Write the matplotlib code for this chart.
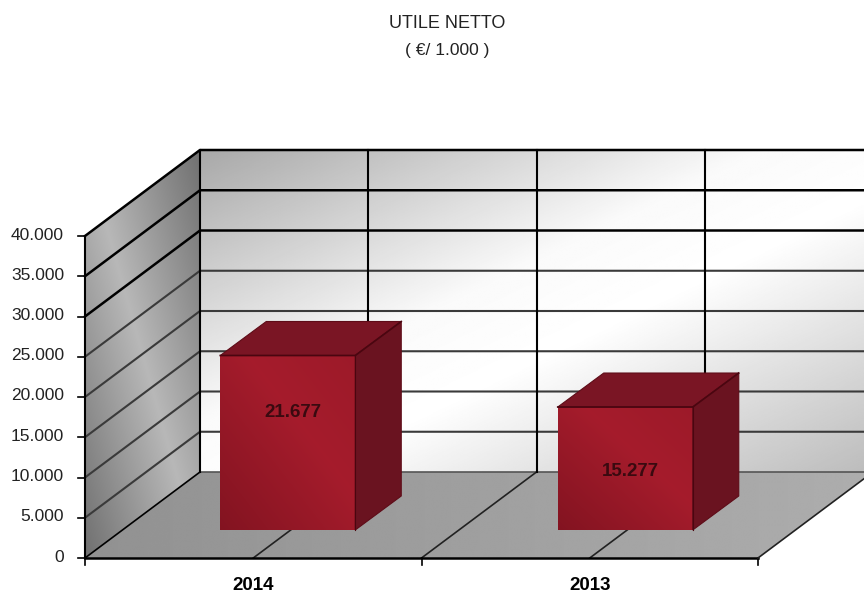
import matplotlib
matplotlib.use('Agg')
import matplotlib.pyplot as plt
from matplotlib.patches import Polygon
import numpy as np

categories = ['2014', '2013']
values = [21677, 15277]
value_labels = ['21.677', '15.277']
y_ticks = [0, 5000, 10000, 15000, 20000, 25000, 30000, 35000, 40000]
y_tick_labels = ['0', '5.000', '10.000', '15.000', '20.000', '25.000', '30.000', '35.000', '40.000']

# geometria della scena in pixel
X0, Y0 = 85, 558
X1 = 758
DX, DY = 115, 86
SCALA = 322 / 40000
CAT_W = (X1 - X0) / len(categories)
BAR_W = 135
BAR_DX = -33
BAR_UP = 28
BAR_D = (46, 34)

plt.rcParams['font.family'] = ['Liberation Sans Narrow', 'Liberation Sans', 'DejaVu Sans']

fig = plt.figure(figsize=(8.64, 5.94), dpi=100)
ax = fig.add_axes([0, 0, 1, 1])
ax.set_xlim(0, 864)
ax.set_ylim(594, 0)
ax.axis('off')


def ypx(v):
    return Y0 - v * SCALA


def sfumato(punti, func, cmap, vmin=0, vmax=1, z=1):
    # riempie un poligono con un gradiente calcolato pixel per pixel
    punti = np.array(punti)
    x0, x1 = punti[:, 0].min(), punti[:, 0].max()
    y0, y1 = punti[:, 1].min(), punti[:, 1].max()
    xx, yy = np.meshgrid(np.linspace(x0, x1, 300), np.linspace(y0, y1, 300))
    im = ax.imshow(func(xx, yy), extent=[x0, x1, y1, y0], cmap=cmap, vmin=vmin, vmax=vmax,
                   aspect='auto', zorder=z, interpolation='bilinear')
    pg = Polygon(punti, closed=True, transform=ax.transData, fc='none', ec='none')
    ax.add_patch(pg)
    im.set_clip_path(pg)
    ax.set_xlim(0, 864)
    ax.set_ylim(594, 0)


top = ypx(40000)
bx = X0 + DX

# parete di fondo
def grad_fondo(x, y):
    t = ((x - bx) / (864 - bx) + (y - (top - DY)) / (ypx(0) - top)) / 2
    return np.interp(t, [0, 0.42, 0.58, 1], [0.66, 0.98, 1.0, 0.74])

sfumato([(bx, top - DY), (864, top - DY), (864, Y0 - DY), (bx, Y0 - DY)], grad_fondo, 'gray')

# parete sinistra
def grad_sx(x, y):
    u = (x - X0) / DX - (y - (top - DY)) / (Y0 - top + DY)
    return 0.72 - 0.28 * np.abs(u)

sfumato([(X0, top), (bx, top - DY), (bx, Y0 - DY), (X0, Y0)], grad_sx, 'gray')

# pavimento
def grad_pav(x, y):
    return 0.57 + 0.11 * (x - X0) / (X1 + DX - X0)

sfumato([(X0, Y0), (X1, Y0), (X1 + DX, Y0 - DY), (bx, Y0 - DY)], grad_pav, 'gray')

# griglia
for v in y_ticks:
    col = 'black' if v >= 30000 else '#3a3a3a'
    lw = 1.8 if v >= 30000 else 1.5
    if v > 0:
        ax.plot([X0, bx, 864], [ypx(v), ypx(v) - DY, ypx(v) - DY], color=col, lw=lw, zorder=2)
    else:
        ax.plot([bx, 864], [ypx(v) - DY, ypx(v) - DY], color='#555555', lw=1.2, zorder=2)
    ax.plot([X0 - 7, X0], [ypx(v), ypx(v)], color='black', lw=1.2, zorder=2)

for k in range(2 * len(categories) + 1):
    xf = X0 + k * CAT_W / 2
    if k > 0 and k < 2 * len(categories):
        ax.plot([xf, xf + DX], [Y0, Y0 - DY], color='#222222', lw=1.2, zorder=2)
    if k < 2 * len(categories):
        ax.plot([xf + DX, xf + DX], [top - DY, Y0 - DY], color='black', lw=1.5, zorder=2)
    if k % 2 == 0:
        ax.plot([xf, xf], [Y0, Y0 + 7], color='black', lw=1.2, zorder=2)

ax.plot([X0, X0], [top, Y0], color='black', lw=1.5, zorder=2)
ax.plot([X0, bx], [Y0, Y0 - DY], color='black', lw=1.2, zorder=2)
ax.plot([X0, X1], [Y0, Y0], color='black', lw=1.8, zorder=2)
ax.plot([X1, X1 + DX], [Y0, Y0 - DY], color='#222222', lw=1.2, zorder=2)

cm = matplotlib.colors.LinearSegmentedColormap.from_list('rosso', ['#5c0a14', '#b21f30'])

# barre
label_dy = [-30, 3]
for i, v in enumerate(values):
    xl = X0 + (i + 0.5) * CAT_W + BAR_DX + i
    xr = xl + BAR_W
    yb = Y0 - BAR_UP
    yt = yb - v * SCALA

    def grad_barra(x, y, xl=xl, xr=xr, yt=yt, yb=yb):
        t = ((x - xl) / (xr - xl) + (yb - y) / (yb - yt)) / 2
        return np.interp(t, [0, 0.6, 1], [0.45, 0.85, 0.75])

    sfumato([(xl, yt), (xr, yt), (xr, yb), (xl, yb)], grad_barra, cm, z=3)
    ax.add_patch(Polygon([(xl, yt), (xr, yt), (xr + BAR_D[0], yt - BAR_D[1]), (xl + BAR_D[0], yt - BAR_D[1])],
                         closed=True, fc='#7a1524', ec='#5e0c18', lw=0.8, zorder=3))
    ax.add_patch(Polygon([(xr, yt), (xr + BAR_D[0], yt - BAR_D[1]), (xr + BAR_D[0], yb - BAR_D[1]), (xr, yb)],
                         closed=True, fc='#6a1320', ec='#5e0c18', lw=0.8, zorder=3))
    ax.plot([xl, xr, xr + BAR_D[0]], [yt, yt, yt - BAR_D[1]], color='#4a0610', lw=1.2, zorder=4)
    ax.plot([xr, xr], [yt, yb], color='#4a0610', lw=0.8, zorder=4)
    ax.text((xl + xr) / 2 + 5, (yt + yb) / 2 + label_dy[i], value_labels[i], ha='center', va='center',
            fontsize=13.5, fontweight='bold', color='#3a0a10', zorder=5)

    ax.text(X0 + (i + 0.5) * CAT_W, 585, categories[i], ha='center', va='center',
            fontsize=13.5, fontweight='bold', color='black')

# etichette asse y
for v, lab in zip(y_ticks, y_tick_labels):
    ax.text(64, ypx(v) - 1, lab, ha='right', va='center', fontsize=12.5, color='#222222')

ax.text(447, 24, 'UTILE NETTO', ha='center', va='center', fontsize=13, color='#222222')
ax.text(447, 51, '( €/ 1.000 )', ha='center', va='center', fontsize=12.5, color='#222222')

fig.savefig('out.png', dpi=100)
